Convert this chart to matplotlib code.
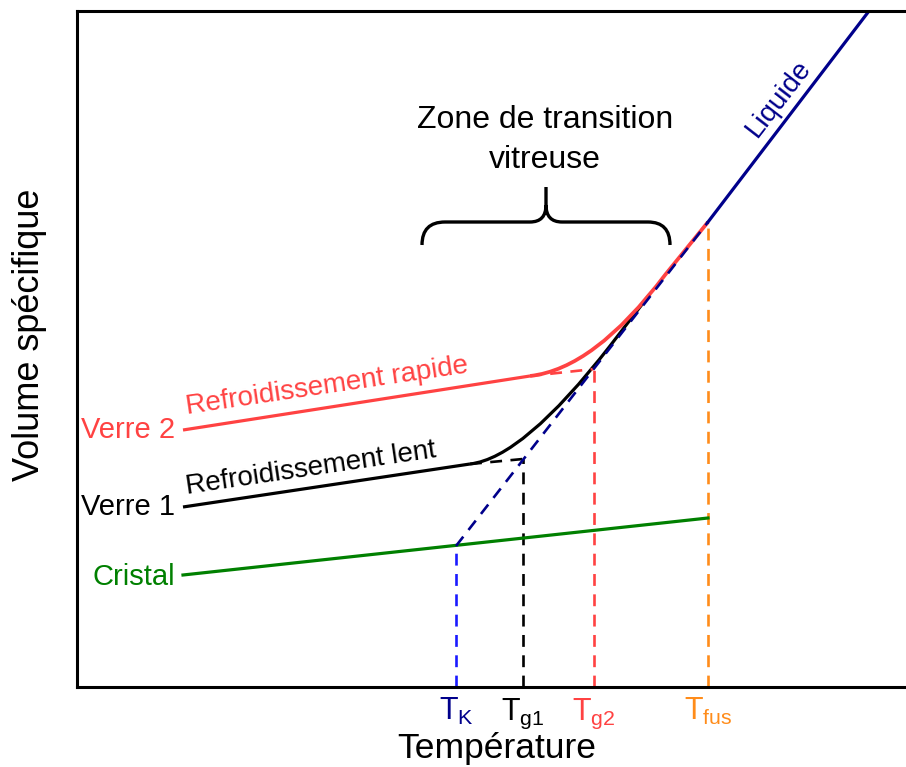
import matplotlib
matplotlib.use("Agg")
import matplotlib.pyplot as plt
from matplotlib.path import Path
from matplotlib.patches import PathPatch

plt.rcParams['font.family'] = ['Liberation Sans', 'DejaVu Sans']
plt.rcParams['mathtext.fontset'] = 'custom'
plt.rcParams['mathtext.rm'] = 'Liberation Sans'
plt.rcParams['mathtext.it'] = 'Liberation Sans'

#----------------------------------------------------------------------------#
# data (arbitrary units: temperature on x, specific volume on y)

# characteristic temperatures
tempNames = ["K", "g1", "g2", "fus"]
tempValues = [456, 523, 594, 708]
tempVolumes = [141, 228, 318, 465]     # where each drop line meets its curve

# liquid line (solid above T_fus, dashed supercooled part down to T_K)
liquidT = [708, 869]
liquidV = [465, 676]
superT = [456, 708]
superV = [141, 465]

# crystal
cristalT = [183, 708]
cristalV = [112, 169]

# glass 1 (slow cooling): straight part, curved part (bezier), extrapolation
verre1T = [183, 470]
verre1V = [180, 223]
verre1CurveT = [470, 523, 610, 650]
verre1CurveV = [223, 229, 341, 393]
verre1DashT = [470, 523]
verre1DashV = [223, 228]

# glass 2 (fast cooling)
verre2T = [183, 530]
verre2V = [257, 311]
verre2CurveT = [530, 594, 665, 708]
verre2CurveV = [311, 318, 412, 465]
verre2DashT = [530, 594]
verre2DashV = [311, 318]

#----------------------------------------------------------------------------#

navy = "#00008b"
red = "#ff4242"
green = "#008000"
orange = "#ff8c1a"
blue = "#1a1aff"

fig = plt.figure(figsize=(9.06, 7.67), dpi=100)
ax = fig.add_axes([77/906, 80/767, 829/906, 676/767])
ax.set_xlim(77, 906)
ax.set_ylim(0, 676)
ax.set_xticks([])
ax.set_yticks([])
ax.spines['right'].set_visible(False)
for s in ['left', 'bottom', 'top']:
	ax.spines[s].set_linewidth(2.2)

lw = 2.3
dash = (0, (4.5, 3.2))

# vertical drop lines
dropColors = [blue, "black", red, orange]
for t, v, c in zip(tempValues, tempVolumes, dropColors):
	ax.plot([t, t], [0, v], color=c, lw=1.9, ls=dash)

# crystal
ax.plot(cristalT, cristalV, color=green, lw=lw)

# glass 1
ax.plot(verre1T, verre1V, color="black", lw=lw, solid_capstyle='butt')
ax.plot(verre1DashT, verre1DashV, color="black", lw=1.9, ls=dash)
p1 = Path(list(zip(verre1CurveT, verre1CurveV)),
	[Path.MOVETO, Path.CURVE3, Path.CURVE3, Path.LINETO])
ax.add_patch(PathPatch(p1, fill=False, edgecolor="black", lw=lw))

# glass 2
ax.plot(verre2T, verre2V, color=red, lw=lw, solid_capstyle='butt')
ax.plot(verre2DashT, verre2DashV, color=red, lw=1.9, ls=dash)
p2 = Path(list(zip(verre2CurveT, verre2CurveV)),
	[Path.MOVETO, Path.CURVE3, Path.CURVE3, Path.LINETO])
ax.add_patch(PathPatch(p2, fill=False, edgecolor=red, lw=lw + 0.4))

# liquid
ax.plot(liquidT, liquidV, color=navy, lw=lw)
ax.plot(superT, superV, color=navy, lw=1.9, ls=dash)

# brace over the glass transition zone
braceVerts = [(422, 442), (422, 465), (445, 465), (530, 465),
	(546, 465), (546, 482), (546, 500),
	(546, 482), (546, 465), (562, 465), (648, 465),
	(670, 465), (670, 442)]
braceCodes = [Path.MOVETO, Path.CURVE3, Path.CURVE3, Path.LINETO,
	Path.CURVE3, Path.CURVE3, Path.LINETO,
	Path.MOVETO, Path.CURVE3, Path.CURVE3, Path.LINETO,
	Path.CURVE3, Path.CURVE3]
ax.add_patch(PathPatch(Path(braceVerts, braceCodes), fill=False,
	edgecolor="black", lw=2.4, capstyle='butt'))

# texts
ax.text(545, 559, "Zone de transition", ha='center', va='baseline',
	fontsize=23)
ax.text(545, 519, "vitreuse", ha='center', va='baseline', fontsize=23)
ax.text(757, 549, "Liquide", color=navy, fontsize=20, rotation=52.3,
	rotation_mode='anchor', ha='left', va='baseline')
ax.text(187, 273, "Refroidissement rapide", color=red, fontsize=20,
	rotation=8.4, rotation_mode='anchor', ha='left', va='baseline')
ax.text(187, 193, "Refroidissement lent", color="black", fontsize=20,
	rotation=8.4, rotation_mode='anchor', ha='left', va='baseline')
ax.text(175, 257, "Verre 2", color=red, fontsize=21, ha='right',
	va='center')
ax.text(175, 180, "Verre 1", color="black", fontsize=21, ha='right',
	va='center')
ax.text(175, 110, "Cristal", color=green, fontsize=21, ha='right',
	va='center')

# temperature labels under the axis
labelColors = [navy, "black", red, orange]
for name, t, c in zip(tempNames, tempValues, labelColors):
	ax.text(t, -33, r"T$_{\mathrm{%s}}$" % name, color=c, fontsize=22,
		ha='center', va='baseline', clip_on=False)

ax.set_xlabel("Température", fontsize=25.5)
ax.set_ylabel("Volume spécifique", fontsize=26)
ax.xaxis.set_label_coords((497 - 77) / 829, -(758 - 687) / 676)
ax.xaxis.label.set_va('baseline')
ax.yaxis.set_label_coords(-(77 - 30) / 829, (687 - 335) / 676)
ax.yaxis.label.set_va('center')

fig.savefig("out.png", dpi=100)
